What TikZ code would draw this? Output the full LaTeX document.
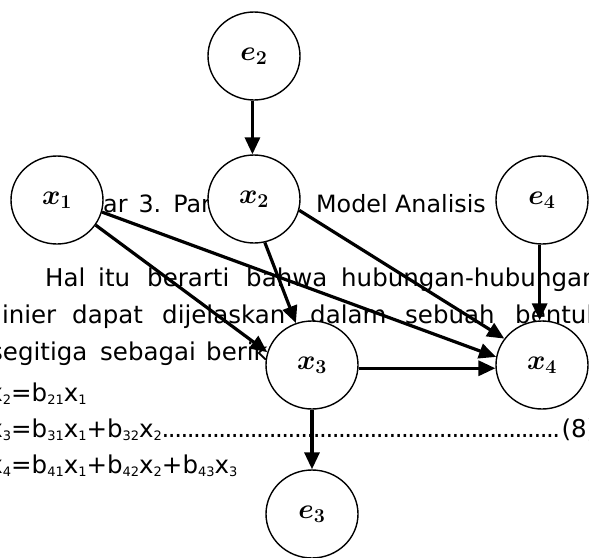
\RequirePackage{fix-cm}
\documentclass[tikz,border=0pt]{standalone}
\usepackage[no-math]{fontspec}
\setmainfont{DejaVu Sans}
\usepackage{bm}
\usetikzlibrary{arrows.meta,shapes.geometric}
\newcommand{\sbx}[1]{\raisebox{-3.5pt}{\fontsize{13}{13}\selectfont #1}}
\tikzset{
  var/.style={ellipse, draw, line width=1.4pt, fill=white, minimum width=92pt,
    minimum height=88pt, inner sep=0pt, font=\fontsize{28}{32}\selectfont},
  arr/.style={line width=3.2pt, -{Triangle[length=17pt,width=15pt]}},
  txt/.style={anchor=base west, inner sep=0pt, font=\fontsize{24.5}{28}\selectfont},
  captxt/.style={txt, font=\fontsize{23.8}{28}\selectfont},
}
\begin{document}
\begin{tikzpicture}[x=1pt,y=-1pt]
\useasboundingbox (0,0) rectangle (589,557);
\clip (0,0) rectangle (589,557);
\fill[white] (0,0) rectangle (589,557);
% caption (partly hidden)
\node[captxt] (c1) at (103,212) {\llap{Gamb}ar\hspace{11pt}3.\hspace{12pt}Paradigma};
\node[captxt] (c2) at (316,212) {Model Analisis};
% paragraph
\node[txt] (p11) at (45,286) {Hal};
\node[txt] (p12) at (98,286) {itu};
\node[txt] (p13) at (147,286) {berarti};
\node[txt] (p14) at (246,286) {bahwa};
\node[txt] (p15) at (341,286) {hubungan-hubungan};
\node[txt] (p21) at (-5,323) {linier};
\node[txt] (p22) at (72,323) {dapat};
\node[txt] (p23) at (162,323) {dijelaskan};
\node[txt] (p24) at (310,323) {dalam};
\node[txt] (p25) at (405,323) {sebuah};
\node[txt] (p26) at (515,323) {bentuk};
\node[txt] (p31) at (-10,360) {segitiga};
\node[txt] (p32) at (100,360) {sebagai};
\node[txt] (p33) at (206,360) {berikut:};
% equations
\node[txt] (eq1) at (11,401) {\llap{x\sbx{2}}=b\sbx{21}x\sbx{1}};
\node[txt] (eq2) at (11,437) {\hbox to 585pt{\llap{x\sbx{3}}=b\sbx{31}x\sbx{1}+b\sbx{32}x\sbx{2}\leaders\hbox to 6.3pt{\hss.\hss}\hfill(8)}};
\node[txt] (eq3) at (11,473) {\llap{x\sbx{4}}=b\sbx{41}x\sbx{1}+b\sbx{42}x\sbx{2}+b\sbx{43}x\sbx{3}};
% nodes
\node[var] (e2) at (254,56) {$\bm{e_2}$};
\node[var] (x1) at (57,200) {$\bm{x_1}$};
\node[var] (x2) at (254,199) {$\bm{x_2}$};
\node[var] (e4) at (542,200) {$\bm{e_4}$};
\node[var] (x3) at (312,365) {$\bm{x_3}$};
\node[var] (x4) at (542,365) {$\bm{x_4}$};
\node[var] (e3) at (312,514) {$\bm{e_3}$};
% arrows
\draw[arr] (e2.-92) -- (x2.92);
\draw[arr] (x1.-33) -- (x3.164);
\draw[arr] (x1.-15) -- (x4.170);
\draw[arr] (x2.-76) -- (x3.111);
\draw[arr] (x2.-14) -- (x4.145);
\draw[arr] (e4.-93) -- (x4.93);
\draw[arr] (x3.-4) -- (x4.184);
\draw[arr] (x3.south) -- (e3.north);
\end{tikzpicture}
\end{document}
